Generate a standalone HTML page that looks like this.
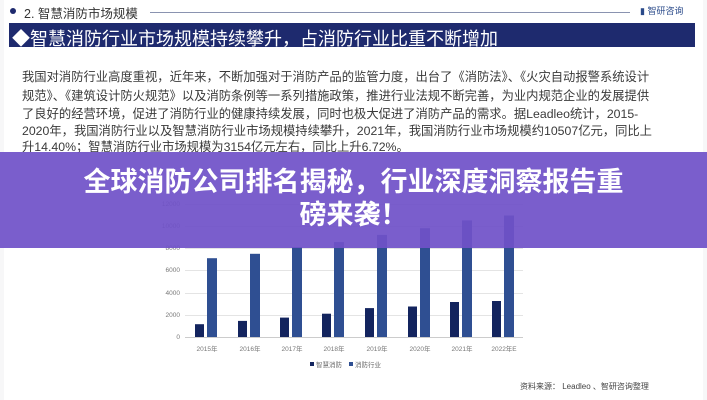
<!DOCTYPE html>
<html><head><meta charset="utf-8"><style>
body{margin:0;width:707px;height:400px;overflow:hidden;background:#fff;position:relative;font-family:"Liberation Sans","Noto Sans CJK SC",sans-serif}
.a{position:absolute;white-space:nowrap}
.t{font-size:12.3px;color:#3a3a3a;left:22px}
</style></head><body>
<div class="a" style="left:0;top:0;width:707px;height:400px;background:#f7f7f8"></div>
<div class="a" style="left:4px;top:0;width:699px;height:400px;background:#fff"></div>
<div class="a" style="left:10px;top:8px;width:6px;height:6px;border-radius:50%;background:#1e2a6e"></div>
<div class="a" style="left:24px;top:3px;font-size:12.5px;color:#333">2. 智慧消防市场规模</div>
<div class="a" style="left:150px;top:12px;width:480px;height:1px;background:#8a93b0"></div>
<div class="a" style="left:640px;top:4px;font-size:9px;color:#2a4a8a">▮ 智研咨询</div>
<div class="a" style="left:9px;top:23px;width:686px;height:24px;background:#1e2a6e"></div>
<div class="a" style="left:12px;top:25px;font-size:18px;color:#fff">◆智慧消防行业市场规模持续攀升，占消防行业比重不断增加</div>
<div class="a t" style="top:67px">我国对消防行业高度重视，近年来，不断加强对于消防产品的监管力度，出台了《消防法》、《火灾自动报警系统设计</div>
<div class="a t" style="top:86px">规范》、《建筑设计防火规范》以及消防条例等一系列措施政策，推进行业法规不断完善，为业内规范企业的发展提供</div>
<div class="a t" style="top:104px">了良好的经营环境，促进了消防行业的健康持续发展，同时也极大促进了消防产品的需求。据Leadleo统计，2015-</div>
<div class="a t" style="top:121px">2020年，我国消防行业以及智慧消防行业市场规模持续攀升，2021年，我国消防行业市场规模约10507亿元，同比上</div>
<div class="a t" style="top:137px">升14.40%；智慧消防行业市场规模为3154亿元左右，同比上升6.72%。</div>
<svg class="a" style="left:0;top:0" width="707" height="400" font-family="Liberation Sans,Noto Sans CJK SC,sans-serif">
<g stroke="#e4e4e4" stroke-width="1">
<line x1="185" x2="523" y1="204.5" y2="204.5"/><line x1="185" x2="523" y1="226.5" y2="226.5"/><line x1="185" x2="523" y1="248.5" y2="248.5"/><line x1="185" x2="523" y1="270.5" y2="270.5"/><line x1="185" x2="523" y1="293.5" y2="293.5"/><line x1="185" x2="523" y1="315.5" y2="315.5"/><line x1="185" x2="523" y1="337.5" y2="337.5" stroke="#ccc"/>
</g>
<g font-size="6.5" fill="#777" text-anchor="end">
<text x="180" y="206">12000</text><text x="180" y="228">10000</text><text x="180" y="250">8000</text><text x="180" y="272">6000</text><text x="180" y="295">4000</text><text x="180" y="317">2000</text><text x="180" y="339">0</text>
</g>
<g fill="#13245e">
<rect x="195" y="324.2" width="9" height="12.8"/><rect x="238" y="320.9" width="9" height="16.1"/><rect x="280" y="317.6" width="9" height="19.4"/><rect x="322" y="313.7" width="9" height="23.3"/><rect x="365" y="308.1" width="9" height="28.9"/><rect x="408" y="306.5" width="9" height="30.5"/><rect x="450" y="302" width="9" height="35"/><rect x="492" y="301" width="9" height="36"/>
</g>
<g fill="#2f4f92">
<rect x="207" y="258.2" width="10" height="78.8"/><rect x="250" y="253.8" width="10" height="83.2"/><rect x="292" y="247.1" width="10" height="89.9"/><rect x="334" y="242.1" width="10" height="94.9"/><rect x="377" y="234.9" width="10" height="102.1"/><rect x="420" y="228.2" width="10" height="108.8"/><rect x="462" y="220.4" width="10" height="116.6"/><rect x="504" y="215.5" width="10" height="121.5"/>
</g>
<g font-size="6.5" fill="#777" text-anchor="middle">
<text x="207" y="351">2015年</text><text x="250" y="351">2016年</text><text x="292" y="351">2017年</text><text x="334" y="351">2018年</text><text x="377" y="351">2019年</text><text x="420" y="351">2020年</text><text x="462" y="351">2021年</text><text x="504" y="351">2022年E</text>
</g>
<rect x="310" y="362" width="4" height="4" fill="#13245e"/><text x="316" y="367" font-size="6.5" fill="#666">智慧消防</text>
<rect x="349" y="362" width="4" height="4" fill="#2f4f92"/><text x="355" y="367" font-size="6.5" fill="#666">消防行业</text>
<text x="520" y="389" font-size="8" fill="#444">资料来源：  Leadleo 、智研咨询整理</text>
</svg>
<div class="a" style="left:0;top:152px;width:707px;height:96px;background:rgba(112,82,200,0.93)"></div>
<div class="a" style="left:0;top:166px;width:707px;text-align:center;font-size:27px;font-weight:bold;color:#fff;line-height:33px">全球消防公司排名揭秘，行业深度洞察报告重<br>磅来袭！</div>
</body></html>
